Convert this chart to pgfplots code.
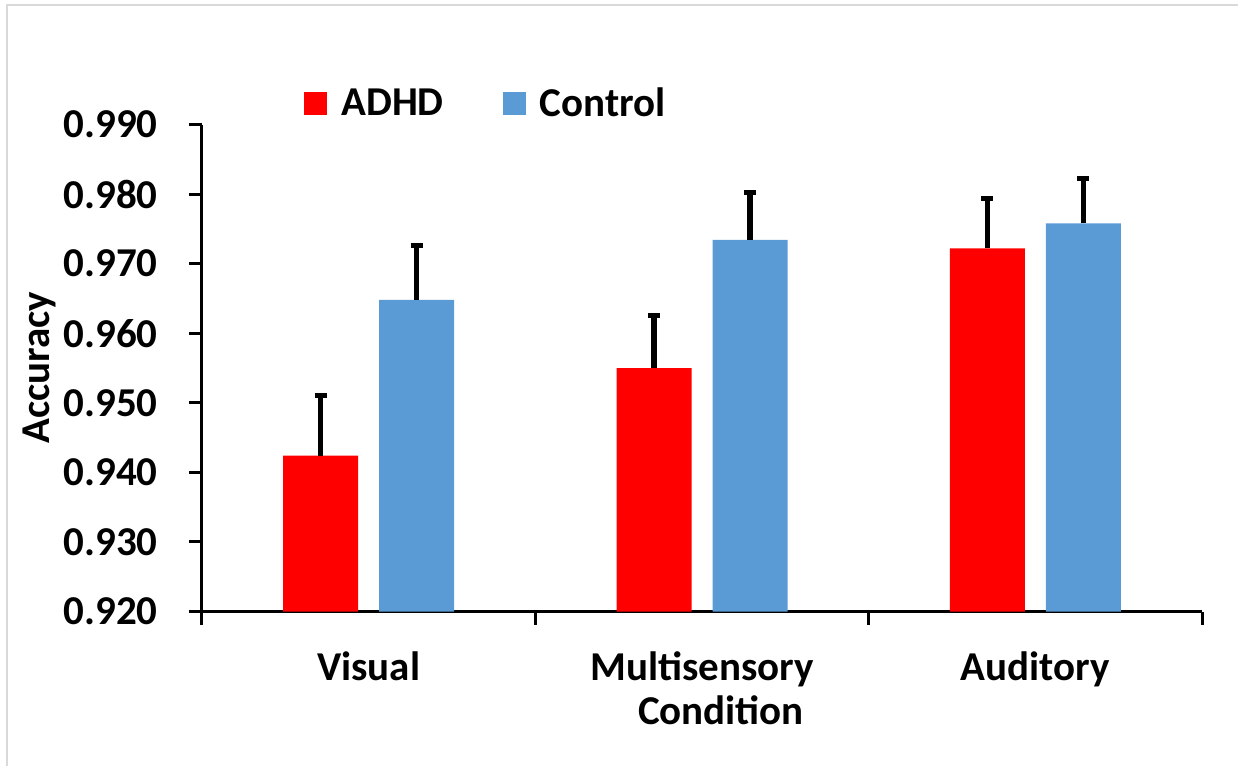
\documentclass[border=0pt]{standalone}
\usepackage{pgfplots}
\pgfplotsset{compat=1.18}
\usepackage{fontspec}
\setmainfont{Carlito}

\definecolor{adhd}{HTML}{FF0000}
\definecolor{ctrl}{HTML}{5B9BD5}
\definecolor{chartframe}{HTML}{D9D9D9}

\newcommand{\chartfont}{\fontsize{20.5}{24.6}\selectfont\bfseries}

\begin{document}
\begin{tikzpicture}
\useasboundingbox (0,0) rectangle (619pt,-383pt);
% chart area border
\draw[chartframe, line width=1pt] (3.5pt,-383pt) -- (3.5pt,-2.5pt) -- (619pt,-2.5pt);
\begin{axis}[
  at={(101pt,-305.75pt)}, anchor=south west,
  scale only axis, width=500pt, height=243.5pt,
  xmin=-0.5, xmax=2.5, ymin=0.92, ymax=0.99,
  axis lines*=left,
  axis line style={line width=1.5pt, black},
  tick align=outside,
  major tick length=6.5pt, minor tick length=6.5pt,
  xtick={0,1,2},
  xticklabels={Visual, Multisensory, Auditory},
  minor xtick={-0.5,0.5,1.5,2.5},
  major x tick style={draw=none},
  minor x tick style={black, line width=1.5pt},
  ytick={0.92,0.93,0.94,0.95,0.96,0.97,0.98,0.99},
  yticklabels={0.920,0.930,0.940,0.950,0.960,0.970,0.980,0.990},
  y tick style={black, line width=1.5pt},
  tick label style={font=\chartfont},
  xticklabel style={anchor=base, yshift=-27.75pt},
  yticklabel style={anchor=east, inner sep=0pt, xshift=-15.5pt},
  xlabel={Condition},
  ylabel={Accuracy},
  label style={font=\chartfont},
  xlabel style={at={(axis description cs:0.519,-0.233)}, anchor=base},
  ylabel style={at={(axis description cs:-0.163,0.5)}, anchor=center, rotate=0},
  clip=false,
  legend columns=2,
  legend style={at={(axis description cs:0.102,1.043)}, anchor=west,
    draw=none, fill=none, font=\chartfont, inner sep=0pt,
    nodes={inner sep=0pt},
    /tikz/every odd column/.append style={column sep=7pt},
    /tikz/every even column/.append style={column sep=29.5pt}},
  legend image code/.code={\fill[#1] (0pt,-5.5pt) rectangle (11.5pt,6pt);},
  error bars/error bar style={line width=2.75pt, black},
  error bars/error mark options={rotate=90, line width=2.5pt, mark size=3pt, black},
]
% ADHD group (left bar of each condition)
\addplot[ybar, fill=adhd, draw=none, bar width=37.5pt, bar shift=0pt,
  error bars/.cd, y dir=plus, y explicit]
  coordinates {(-0.144,0.9424) +- (0,0.0086)
               (0.856,0.9550) +- (0,0.0075)
               (1.856,0.9722) +- (0,0.0072)};
\addlegendentry{ADHD}
% Control group (right bar of each condition)
\addplot[ybar, fill=ctrl, draw=none, bar width=37.5pt, bar shift=0pt,
  error bars/.cd, y dir=plus, y explicit]
  coordinates {(0.144,0.9648) +- (0,0.0078)
               (1.144,0.9734) +- (0,0.0068)
               (2.144,0.9758) +- (0,0.0065)};
\addlegendentry{Control}
\end{axis}
\end{tikzpicture}
\end{document}
